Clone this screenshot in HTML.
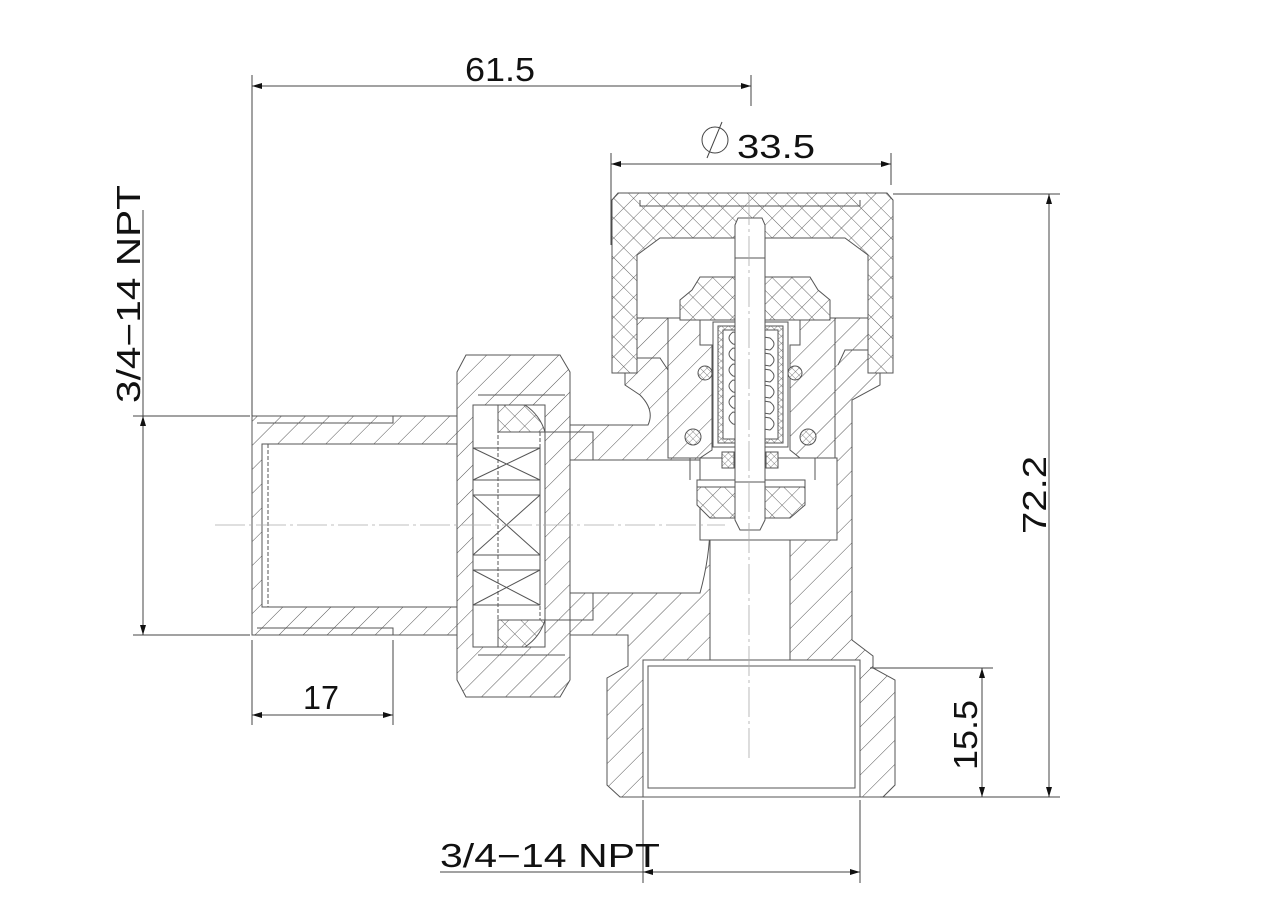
<!DOCTYPE html>
<html><head><meta charset="utf-8"><style>
html,body{margin:0;padding:0;background:#fff;}
svg{display:block;}
text{font-family:"Liberation Sans",sans-serif;fill:#111;}
</style></head><body>
<svg width="1287" height="924" viewBox="0 0 1287 924" xmlns="http://www.w3.org/2000/svg">
<defs>
<pattern id="h" patternUnits="userSpaceOnUse" width="17" height="17" patternTransform="rotate(45)">
<rect width="17" height="17" fill="#fff"/><line x1="0" y1="0" x2="0" y2="17" stroke="#555" stroke-width="1"/></pattern>
<pattern id="x" patternUnits="userSpaceOnUse" width="14" height="14" patternTransform="rotate(45)">
<rect width="14" height="14" fill="#fff"/><line x1="0" y1="0" x2="0" y2="14" stroke="#555" stroke-width="0.9"/><line x1="0" y1="0" x2="14" y2="0" stroke="#555" stroke-width="0.9"/></pattern>
<pattern id="xs" patternUnits="userSpaceOnUse" width="5" height="5" patternTransform="rotate(45)">
<rect width="5" height="5" fill="#fff"/><line x1="0" y1="0" x2="0" y2="5" stroke="#555" stroke-width="0.7"/><line x1="0" y1="0" x2="5" y2="0" stroke="#555" stroke-width="0.7"/></pattern>
<marker id="a" viewBox="0 0 10 6" refX="10" refY="3" markerWidth="10" markerHeight="6" orient="auto-start-reverse" markerUnits="userSpaceOnUse"><path d="M0,0 L10,3 L0,6 Z" fill="#111"/></marker>
</defs>

<g stroke="#555" stroke-width="1" fill="none">
<!-- main body -->
<path fill="url(#h)" d="M570,425 L648,425 Q655,410 640,395 L625,385 L625,318 L880,318 L880,385 L852,400 L852,640 L873,656 L873,668 L895,680 L895,785 L883,797 L620,797 L607,785 L607,678 L628,666 L628,635 L570,635 Z"/>
<!-- bores -->
<path fill="#fff" d="M570,460 L700,460 Q720,520 700,593 L570,593 Z"/>
<rect x="700" y="458" width="137" height="82" fill="#fff"/>
<rect x="710" y="540" width="80" height="122" fill="#fff"/>
<rect x="643" y="660" width="217" height="137" fill="#fff"/>
<rect x="648" y="666" width="207" height="122" fill="#fff"/>
<line x1="643" y1="797" x2="860" y2="797"/>
<!-- bonnet cavity -->
<path fill="#fff" d="M668,318 L835,318 L835,458 L668,458 Z"/>
<path fill="url(#h)" d="M668,318 L700,318 L700,345 L712,345 L712,450 L700,458 L668,458 Z"/>
<path fill="url(#h)" d="M835,318 L800,318 L800,345 L790,345 L790,450 L800,458 L835,458 Z"/>
<path d="M632,318 L632,358 L660,358 L668,370 M877,318 L877,350 L845,350 L838,365 M690,458 L690,480 M815,458 L815,480"/>
<!-- spring box -->
<rect x="713" y="322" width="75" height="125" fill="#fff"/>
<rect x="718" y="326" width="65" height="117" fill="url(#xs)"/>
<rect x="723" y="330" width="55" height="109" fill="#fff"/>
<g stroke-width="1">
<path d="M733,332 Q725,338 733,344 L770,350 Q778,344 770,338 Z"/>
<path d="M733,348 Q725,354 733,360 L770,366 Q778,360 770,354 Z"/>
<path d="M733,364 Q725,370 733,376 L770,382 Q778,376 770,370 Z"/>
<path d="M733,380 Q725,386 733,392 L770,398 Q778,392 770,386 Z"/>
<path d="M733,396 Q725,402 733,408 L770,414 Q778,408 770,402 Z"/>
<path d="M733,412 Q725,418 733,424 L770,430 Q778,424 770,418 Z"/>
</g>
<!-- packing nut -->
<path fill="url(#x)" d="M680,320 L680,300 L692,290 L700,277 L810,277 L818,290 L830,300 L830,320 Z"/>
<!-- cap -->
<path fill="url(#x)" d="M612,200 L618,193 L887,193 L893,200 L893,373 L868,373 L868,255 L845,238 L660,238 L637,255 L637,373 L612,373 Z"/>
<path d="M640,200 L640,206 L860,206 L860,200"/>
<!-- o-rings -->
<circle cx="705" cy="373" r="7" fill="url(#xs)"/><circle cx="795" cy="373" r="7" fill="url(#xs)"/>
<circle cx="693" cy="437" r="8" fill="url(#xs)"/><circle cx="808" cy="437" r="8" fill="url(#xs)"/>
<rect x="722" y="452" width="12" height="16" fill="url(#xs)"/><rect x="766" y="452" width="12" height="16" fill="url(#xs)"/>
<!-- disc -->
<path fill="url(#x)" d="M697,487 L805,487 L805,505 L790,518 L710,518 L697,505 Z"/>
<rect x="697" y="480" width="108" height="7" fill="#fff"/>
<!-- stem -->
<path fill="#fff" d="M735,225 L738,218 L762,218 L765,225 L765,520 L760,530 L740,530 L735,520 Z"/>
<line x1="735" y1="258" x2="765" y2="258"/><line x1="735" y1="482" x2="765" y2="482"/>
<!-- pipe -->
<rect x="252" y="416" width="221" height="219" fill="url(#h)"/>
<rect x="262" y="444" width="211" height="163" fill="#fff"/>
<path d="M257,423 L393,423 L393,416 M257,628 L393,628 L393,635" />
<path d="M262,444 L262,607 M268,444 L268,607" stroke-dasharray="4,2"/>
<!-- nut -->
<path fill="url(#h)" d="M457,372 L466,355 L560,355 L570,372 L570,680 L560,697 L466,697 L457,680 Z"/>
<rect x="473" y="405" width="72" height="242" fill="#fff"/>
<path d="M478,395 L565,395 M478,655 L565,655 M473,405 L540,405 M473,647 L540,647"/>
<path fill="url(#x)" d="M498,405 L525,405 Q540,415 545,432 L498,432 Z"/>
<path fill="url(#x)" d="M498,647 L525,647 Q540,637 545,620 L498,620 Z"/>
<rect x="473" y="448" width="67" height="157" fill="#fff"/>
<path d="M473,448 L540,448 M473,480 L540,480 M473,495 L540,495 M473,555 L540,555 M473,570 L540,570 M473,605 L540,605 M473,448 L540,480 M540,448 L473,480 M473,495 L540,555 M540,495 L473,555 M473,570 L540,605 M540,570 L473,605"/>
<path d="M498,405 L498,647 M540,432 L540,620" stroke-dasharray="4,2"/>
<path d="M545,432 L593,432 L593,460 M545,620 L593,620 L593,593"/>
</g>

<!-- centerlines -->
<g stroke="#aaa" stroke-width="0.8" stroke-dasharray="30,4,3,4">
<line x1="215" y1="525" x2="725" y2="525"/>
<line x1="749" y1="195" x2="749" y2="760"/>
</g>

<!-- dimensions -->
<g stroke="#444" stroke-width="1" fill="none">
<line x1="252" y1="75" x2="252" y2="416"/>
<line x1="751" y1="75" x2="751" y2="106"/>
<line x1="252" y1="86" x2="751" y2="86" marker-start="url(#a)" marker-end="url(#a)"/>
<line x1="611" y1="153" x2="611" y2="245"/>
<line x1="891" y1="153" x2="891" y2="185"/>
<line x1="611" y1="164" x2="891" y2="164" marker-start="url(#a)" marker-end="url(#a)"/>
<circle cx="715" cy="140" r="13"/><line x1="707" y1="158" x2="722" y2="122"/>
<line x1="893" y1="194" x2="1060" y2="194"/>
<line x1="880" y1="797" x2="1060" y2="797"/>
<line x1="1049" y1="194" x2="1049" y2="797" marker-start="url(#a)" marker-end="url(#a)"/>
<line x1="870" y1="668" x2="993" y2="668"/>
<line x1="982" y1="668" x2="982" y2="797" marker-start="url(#a)" marker-end="url(#a)"/>
<line x1="133" y1="416" x2="250" y2="416"/>
<line x1="133" y1="635" x2="250" y2="635"/>
<line x1="143" y1="210" x2="143" y2="416"/>
<line x1="143" y1="416" x2="143" y2="635" marker-start="url(#a)" marker-end="url(#a)"/>
<line x1="252" y1="640" x2="252" y2="725"/>
<line x1="393" y1="640" x2="393" y2="725"/>
<line x1="252" y1="715" x2="393" y2="715" marker-start="url(#a)" marker-end="url(#a)"/>
<line x1="643" y1="800" x2="643" y2="883"/>
<line x1="860" y1="800" x2="860" y2="883"/>
<line x1="440" y1="872" x2="643" y2="872"/>
<line x1="643" y1="872" x2="860" y2="872" marker-start="url(#a)" marker-end="url(#a)"/>
</g>

<g font-size="33">
<text x="465" y="81" textLength="70" lengthAdjust="spacingAndGlyphs">61.5</text>
<text x="737" y="158" textLength="78" lengthAdjust="spacingAndGlyphs">33.5</text>
<text x="303" y="709" textLength="36" lengthAdjust="spacingAndGlyphs">17</text>
<text x="440" y="867" textLength="220" lengthAdjust="spacingAndGlyphs">3/4−14 NPT</text>
<text transform="translate(140,403) rotate(-90)" x="0" y="0" textLength="218" lengthAdjust="spacingAndGlyphs">3/4−14 NPT</text>
<text transform="translate(1046,534) rotate(-90)" x="0" y="0" textLength="78" lengthAdjust="spacingAndGlyphs">72.2</text>
<text transform="translate(977,770) rotate(-90)" x="0" y="0" textLength="70" lengthAdjust="spacingAndGlyphs">15.5</text>
</g>
</svg>
</body></html>
